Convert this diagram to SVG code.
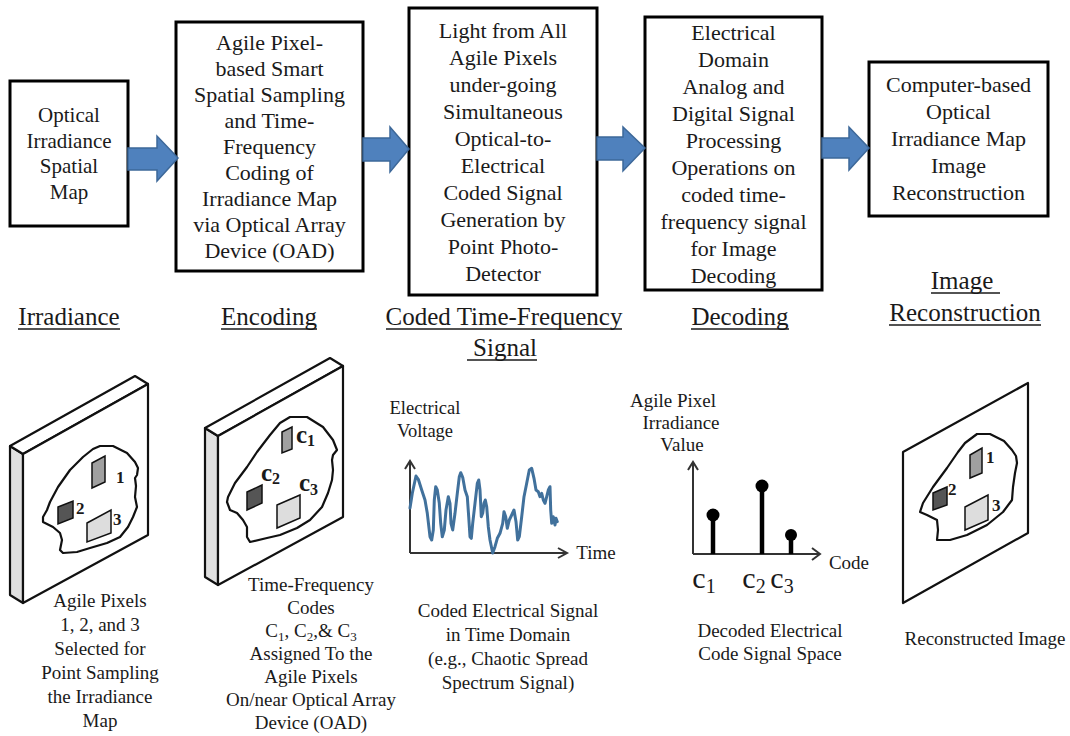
<svg xmlns="http://www.w3.org/2000/svg" width="1070" height="736" viewBox="0 0 1070 736" font-family="'Liberation Serif', 'DejaVu Serif', serif">
  <style>
    text { font-family: 'Liberation Serif', 'DejaVu Serif', serif; }
    .t { fill: #1a1a1a; text-anchor: middle; }
    .bx { font-size: 22px; }
    .b1 { font-size: 21px; }
    .hd { font-size: 25px; }
    .cap { font-size: 19px; }
    .lab { font-size: 18.5px; }
    .box { fill: #fff; stroke: #000; stroke-width: 3; }
    .ul { stroke: #1a1a1a; stroke-width: 1.5; }
    .arrow { fill: #4f81bd; stroke: #3d6899; stroke-width: 1.5; stroke-linejoin: miter; }
    .edge { stroke: #111; stroke-width: 2.2; stroke-linejoin: round; }
    .blob { fill: none; stroke: #111; stroke-width: 2.2; stroke-linejoin: round; }
    .pix { stroke: #111; stroke-width: 1.5; }
    .num { font-size: 17px; font-weight: bold; fill: #1a1a1a; }
    .cc { font-weight: bold; fill: #1a1a1a; }
    .axis { stroke: #333; stroke-width: 2; fill: none; }
    .wave { stroke: #41719c; stroke-width: 3; fill: none; stroke-linejoin: round; stroke-linecap: round; }
    .stem { stroke: #000; stroke-width: 4.5; }
  </style>

  <!-- pipeline blocks -->
  <g id="node-irradiance-map">
    <rect class="box" x="10" y="81" width="118" height="145"/>
    <text class="t b1" x="69" y="122">Optical</text>
    <text class="t b1" x="69" y="148">Irradiance</text>
    <text class="t b1" x="69" y="173">Spatial</text>
    <text class="t b1" x="69" y="199">Map</text>
  </g>

  <g id="node-encoding">
    <rect class="box" x="176" y="22" width="187" height="249"/>
    <text class="t bx" x="269.5" y="50">Agile Pixel-</text>
    <text class="t bx" x="269.5" y="76">based  Smart</text>
    <text class="t bx" x="269.5" y="102">Spatial Sampling</text>
    <text class="t bx" x="269.5" y="128">and Time-</text>
    <text class="t bx" x="269.5" y="154">Frequency</text>
    <text class="t bx" x="269.5" y="180">Coding of</text>
    <text class="t bx" x="269.5" y="206">Irradiance  Map</text>
    <text class="t bx" x="269.5" y="232">via Optical Array</text>
    <text class="t bx" x="269.5" y="258">Device (OAD)</text>
  </g>

  <g id="node-photodetection">
    <rect class="box" x="409" y="8" width="188" height="287"/>
    <text class="t bx" x="503" y="38">Light from All</text>
    <text class="t bx" x="503" y="65">Agile Pixels</text>
    <text class="t bx" x="503" y="92">under-going</text>
    <text class="t bx" x="503" y="119">Simultaneous</text>
    <text class="t bx" x="503" y="146">Optical-to-</text>
    <text class="t bx" x="503" y="173">Electrical</text>
    <text class="t bx" x="503" y="200">Coded Signal</text>
    <text class="t bx" x="503" y="227">Generation by</text>
    <text class="t bx" x="503" y="254">Point Photo-</text>
    <text class="t bx" x="503" y="281">Detector</text>
  </g>

  <g id="node-decoding">
    <rect class="box" x="645" y="17" width="177" height="273"/>
    <text class="t bx" x="733.5" y="40">Electrical</text>
    <text class="t bx" x="733.5" y="67">Domain</text>
    <text class="t bx" x="733.5" y="94">Analog and</text>
    <text class="t bx" x="733.5" y="121">Digital Signal</text>
    <text class="t bx" x="733.5" y="148">Processing</text>
    <text class="t bx" x="733.5" y="175">Operations on</text>
    <text class="t bx" x="733.5" y="202">coded time-</text>
    <text class="t bx" x="733.5" y="229">frequency signal</text>
    <text class="t bx" x="733.5" y="256">for Image</text>
    <text class="t bx" x="733.5" y="283">Decoding</text>
  </g>

  <g id="node-reconstruction">
    <rect class="box" x="869" y="62" width="179" height="154"/>
    <text class="t bx" x="958.5" y="92">Computer-based</text>
    <text class="t bx" x="958.5" y="119">Optical</text>
    <text class="t bx" x="958.5" y="146">Irradiance  Map</text>
    <text class="t bx" x="958.5" y="173">Image</text>
    <text class="t bx" x="958.5" y="200">Reconstruction</text>
  </g>

  <!-- block arrows between stages -->
  <g id="connectors">
    <path class="arrow" d="M128,148 L157,148 L157,136 L178,158 L157,181 L157,170 L128,170 Z"/>
    <path class="arrow" d="M363,138 L390,138 L390,127 L409,149 L390,172 L390,161 L363,161 Z"/>
    <path class="arrow" d="M597,137 L623,137 L623,127 L645,148 L623,171 L623,160 L597,160 Z"/>
    <path class="arrow" d="M822,138 L849,138 L849,127 L869,148 L849,170 L849,158 L822,158 Z"/>
  </g>

  <!-- stage headings -->
  <g id="headings">
    <text class="t hd" x="69" y="325">Irradiance</text>
    <line class="ul" x1="18" y1="329" x2="120" y2="329"/>
    <text class="t hd" x="269" y="325">Encoding</text>
    <line class="ul" x1="221" y1="329" x2="317" y2="329"/>
    <text class="t hd" x="504" y="325">Coded Time-Frequency</text>
    <line class="ul" x1="386" y1="329" x2="622" y2="329"/>
    <text class="t hd" x="505" y="356">Signal</text>
    <line class="ul" x1="467" y1="360" x2="537" y2="360"/>
    <text class="t hd" x="740" y="325">Decoding</text>
    <line class="ul" x1="691" y1="329" x2="789" y2="329"/>
    <text class="t hd" x="962" y="289">Image</text>
    <line class="ul" x1="931" y1="293" x2="1000" y2="293"/>
    <text class="t hd" x="965" y="321">Reconstruction</text>
    <line class="ul" x1="889" y1="325" x2="1041" y2="325"/>
  </g>

  <!-- optical array device with sampled pixels -->
  <g id="irradiance-panel">
    <polygon class="edge" fill="#e0e0e0" points="10,446 23,454 23,603 10,595"/>
    <polygon class="edge" fill="#fff" points="10,446 135,376 148,384 23,454"/>
    <polygon class="edge" fill="#fff" points="23,454 148,384 148,535 23,603"/>
    <path class="blob" d="M100,446 L113,446 L127,453 L135,462 L138,468 L137,475 L135,478 L136,486 L135,497 L137,507 L133,517 L128,527 L120,537 L107,543 L90,548 L77,552 L63,553 L60,550 L62,540 L60,533 L53,527 L47,524 L43,522 L43,517 L47,510 L50,502 L58,487 L70,470 L83,457 L93,449 Z"/>
    <polygon class="pix" fill="#a0a0a0" points="92,463 105,456 105,482 92,488"/>
    <polygon class="pix" fill="#555" points="58,507 73,501 73,518 58,524"/>
    <polygon class="pix" fill="#ddd" points="87,523 111,510 111,533 87,542"/>
    <text class="num" x="116" y="483">1</text>
    <text class="num" x="76" y="514">2</text>
    <text class="num" x="113" y="525">3</text>
  </g>

  <g id="encoding-panel">
    <polygon class="edge" fill="#e0e0e0" points="205,428 218,436 218,585 205,577"/>
    <polygon class="edge" fill="#fff" points="205,428 330,358 343,366 218,436"/>
    <polygon class="edge" fill="#fff" points="218,436 343,366 343,517 218,585"/>
    <path class="blob" d="M290,417 L307,417 L323,427 L333,440 L337,450 L333,455 L332,460 L333,470 L332,480 L328,493 L322,507 L310,520 L297,528 L280,535 L267,538 L250,542 L247,537 L247,527 L243,520 L237,513 L230,510 L227,502 L228,497 L235,483 L247,467 L257,452 L270,435 L280,423 Z"/>
    <polygon class="pix" fill="#a0a0a0" points="282,432 292,427 292,449 282,453"/>
    <polygon class="pix" fill="#555" points="247,492 262,485 262,503 247,510"/>
    <polygon class="pix" fill="#ddd" points="277,505 300,495 300,518 277,528"/>
    <text class="cc" font-size="25" x="296" y="443">c<tspan font-size="16" dy="3">1</tspan></text>
    <text class="cc" font-size="25" x="261" y="481">c<tspan font-size="16" dy="3">2</tspan></text>
    <text class="cc" font-size="25" x="299" y="491">c<tspan font-size="16" dy="4">3</tspan></text>
  </g>

  <!-- coded signal in time domain -->
  <g id="time-signal">
    <text class="t lab" x="425" y="414">Electrical</text>
    <text class="t lab" x="425" y="437">Voltage</text>
    <path class="axis" d="M410,553 L410,461 M405,469 L410,461 L415,469"/>
    <path class="axis" d="M410,553 L567,553 M558,548 L567,553 L558,558"/>
    <text class="t" font-size="19" x="596" y="559">Time</text>
    <polyline class="wave" points="410,508 412.3,493.3 416,476 418.3,479.3 421.7,490 425,500 427.3,513.3 430,536.7 431.7,540 433.3,530 434.3,500 435.7,486.7 437.3,490 439.3,503.3 440.7,523.3 442.3,536.7 444.3,530 446,510 448.3,496.7 450,503.3 451,523.3 452.7,530 455,513.3 457.3,493.3 459.3,476.7 460.7,472.7 462.7,477.3 465,490 467.3,496.7 468.7,516.7 470,536.7 471.3,538.3 472.7,523.3 475,503.3 477.3,483.3 478.7,480 480,490 481.3,516.7 482.7,513.3 484,503.3 485.3,500 486.7,506.7 488.3,526.7 490,540 492.7,553 495,546.7 497.3,538.3 500,533.3 502.7,523.3 504,511.7 505.7,516.7 507.3,528.3 509.3,520 511.7,515 514,510 516,521.7 517.7,540 519.3,536.7 521.7,516.7 524,496.7 526.7,483.3 529.3,470 531.7,468.3 534,478.3 536,490 538.3,491.7 540,496.7 541.7,493.3 543.3,500 545,503.3 546.7,496.7 548.3,490 550,486.7 550.7,510 551.7,523.3 553.3,516.7 555,525 556,518.3 557.3,521.7"/>
  </g>

  <!-- decoded code-space values -->
  <g id="code-space">
    <text class="t" font-size="19" x="673" y="407">Agile Pixel</text>
    <text class="t" font-size="19" x="681" y="429">Irradiance</text>
    <text class="t" font-size="19" x="682" y="451">Value</text>
    <path class="axis" d="M693,554 L693,462 M688,470 L693,462 L698,470"/>
    <path class="axis" d="M693,554 L820,554 M812,548 L820,554 L812,560"/>
    <text class="t" font-size="19" x="849" y="569">Code</text>
    <line class="stem" x1="713" y1="515" x2="713" y2="554"/>
    <circle cx="713" cy="515" r="6.5" fill="#000"/>
    <line class="stem" x1="762" y1="486" x2="762" y2="554"/>
    <circle cx="762" cy="486" r="6.5" fill="#000"/>
    <line class="stem" x1="791" y1="535" x2="791" y2="554"/>
    <circle cx="791" cy="535" r="6" fill="#000"/>
    <text class="t" font-size="30" text-anchor="start" x="704" y="588">c<tspan font-size="20" dy="5">1</tspan></text>
    <text class="t" font-size="30" text-anchor="start" x="754" y="588">c<tspan font-size="20" dy="5">2</tspan></text>
    <text class="t" font-size="30" text-anchor="start" x="782" y="588">c<tspan font-size="20" dy="5">3</tspan></text>
  </g>

  <!-- reconstructed image frame -->
  <g id="reconstructed-panel">
    <polygon class="edge" fill="#fff" points="903,452 1028,383 1028,533 903,603"/>
    <path class="blob" d="M977,434 L990,434 L1004,441 L1012,450 L1016,456 L1017,463 L1015,473 L1013,487 L1012,500 L1003,512 L987,525 L967,535 L950,540 L937,540 L938,530 L937,520 L927,515 L920,512 L923,503 L933,487 L947,468 L958,452 L965,443 Z"/>
    <polygon class="pix" fill="#a0a0a0" points="970,455 982,448 982,473 970,478"/>
    <polygon class="pix" fill="#555" points="933,493 947,487 947,505 933,510"/>
    <polygon class="pix" fill="#ddd" points="965,507 988,495 988,520 965,530"/>
    <text class="num" x="986" y="463">1</text>
    <text class="num" x="948" y="495">2</text>
    <text class="num" x="992" y="511">3</text>
  </g>

  <!-- captions -->
  <g id="captions">
    <text class="t cap" x="100" y="607">Agile Pixels</text>
    <text class="t cap" x="100" y="631">1, 2, and 3</text>
    <text class="t cap" x="100" y="655">Selected for</text>
    <text class="t cap" x="100" y="679">Point Sampling</text>
    <text class="t cap" x="100" y="703">the Irradiance</text>
    <text class="t cap" x="100" y="727">Map</text>

    <text class="t cap" x="311" y="591">Time-Frequency</text>
    <text class="t cap" x="311" y="614">Codes</text>
    <text class="t cap" x="311" y="637">C<tspan font-size="13" dy="4">1</tspan><tspan dy="-4">, C</tspan><tspan font-size="13" dy="4">2</tspan><tspan dy="-4">,&amp; C</tspan><tspan font-size="13" dy="4">3</tspan></text>
    <text class="t cap" x="311" y="660">Assigned To the</text>
    <text class="t cap" x="311" y="683">Agile Pixels</text>
    <text class="t cap" x="311" y="706">On/near Optical Array</text>
    <text class="t cap" x="311" y="729">Device (OAD)</text>

    <text class="t cap" x="508" y="617">Coded Electrical  Signal</text>
    <text class="t cap" x="508" y="641">in Time Domain</text>
    <text class="t cap" x="508" y="665">(e.g., Chaotic Spread</text>
    <text class="t cap" x="508" y="689">Spectrum Signal)</text>

    <text class="t cap" x="770" y="637">Decoded Electrical</text>
    <text class="t cap" x="770" y="660">Code Signal  Space</text>

    <text class="t cap" x="985" y="645">Reconstructed Image</text>
  </g>
</svg>
